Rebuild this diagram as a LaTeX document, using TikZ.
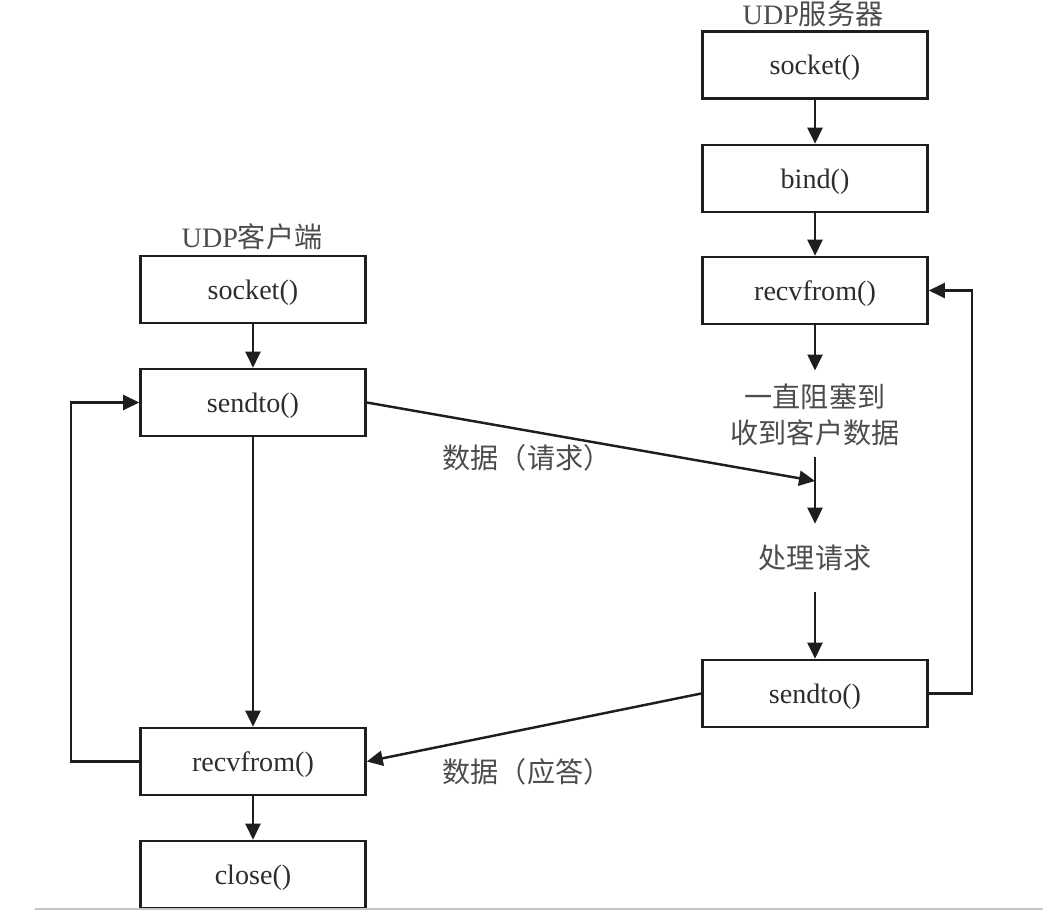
\documentclass[tikz,border=0pt]{standalone}
\usepackage{fontspec}
\setmainfont{Liberation Serif}
\newfontfamily\cjk{Noto Sans CJK SC}
\usetikzlibrary{arrows.meta,positioning}
\definecolor{linegray}{RGB}{30,30,30}
\definecolor{textgray}{RGB}{45,45,45}

\begin{document}
\begin{tikzpicture}[x=0.02cm, y=-0.02cm,
  fbox/.style={draw=linegray, line width=1.5pt, minimum width=4.5cm, minimum height=1.34cm,
    inner sep=0pt, text depth=0pt, font=\fontsize{16}{19}\selectfont, text=textgray},
  note/.style={font=\fontsize{16}{20.5}\selectfont\cjk, text=textgray!85, align=center, inner sep=0pt},
  flow/.style={draw=linegray, line width=1.4pt, -{Triangle[length=0.32cm, width=0.3cm]}}]
\useasboundingbox (0,0) rectangle (1043,911);

% Server column
\node[note] (stitle) at (813,14) {\rmfamily UDP\cjk 服务器};
\node[fbox] (ssock) at (815,65) {socket()};
\node[fbox] (sbind) at (815,178.5) {bind()};
\node[fbox] (srecv) at (815,290.5) {recvfrom()};
\node[note] (block) at (815,415) {一直阻塞到\\收到客户数据};
\node[note] (handle) at (815,558) {处理请求};
\node[fbox] (ssend) at (815,693.5) {sendto()};
\coordinate (req) at (815,481);

% Client column
\node[note] (ctitle) at (252,237) {\rmfamily UDP\cjk 客户端};
\node[fbox] (csock) at (253,289.5) {socket()};
\node[fbox] (csend) at (253,402.5) {sendto()};
\node[fbox] (crecv) at (253,761.5) {recvfrom()};
\node[fbox] (cclose) at (253,874.5) {close()};

% Data labels
\node[note] (reqlabel) at (527,458) {数据（请求）};
\node[note] (replabel) at (527,772) {数据（应答）};

% Server flow
\draw[flow] (ssock) -- (sbind);
\draw[flow] (sbind) -- (srecv);
\draw[flow, shorten >=0.26cm] (srecv) -- (block);
\draw[flow, shorten <=0.22cm, shorten >=0.42cm] (block) -- (handle);
\draw[flow, shorten <=0.42cm] (handle) -- (ssend);
\draw[flow] (ssend.east) -- ++(43,0) |- (srecv.east);

% Client flow
\draw[flow] (csock) -- (csend);
\draw[flow] (csend) -- (crecv);
\draw[flow] (crecv) -- (cclose);
\draw[flow] (crecv.west) -- ++(-68,0) |- (csend.west);

% Messages
\draw[flow] (csend.east) -- (req);
\draw[flow] (ssend.west) -- (crecv.east);

% Bottom edge
\draw[gray!45, line width=1pt] (35,909) -- (1043,909);
\end{tikzpicture}
\end{document}
